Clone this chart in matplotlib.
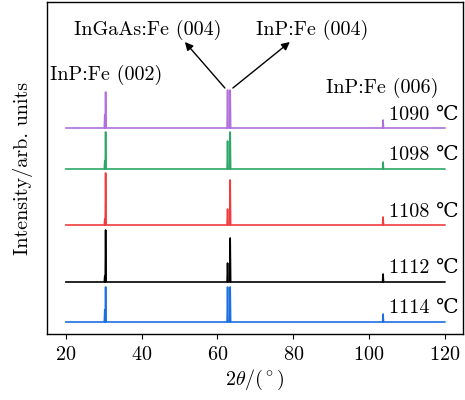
import matplotlib
matplotlib.use("Agg")
import matplotlib.pyplot as plt

plt.rcParams['font.family'] = ['cmr10', 'DejaVu Serif']
plt.rcParams['mathtext.fontset'] = 'cm'
plt.rcParams['axes.formatter.use_mathtext'] = True
FS = 14.5
plt.rcParams['font.size'] = FS

# Data (vertical units: arbitrary, stacked offsets)
temps = ["1090 ℃", "1098 ℃", "1108 ℃", "1112 ℃", "1114 ℃"]
colors = ["#b06fdc", "#2ea866", "#f03c3c", "#000000", "#1c6fe0"]
offsets = [206, 165, 109, 52, 12]
peak_pos = [30.25, 30.47, 62.66, 63.35, 103.7]
peak_heights = {
    "1090 ℃": [13, 36, 38, 38, 8],
    "1098 ℃": [8, 37, 28, 37, 7],
    "1108 ℃": [6, 52, 16, 45, 8],
    "1112 ℃": [6, 52, 19, 44, 8],
    "1114 ℃": [12, 35, 35, 35, 8],
}
x_start, x_end = 20, 120
label_y = [219, 179, 122, 66, 26]

def build(heights, off, hw=0.12):
    xs = [x_start]
    ys = [off]
    for p, h in zip(peak_pos, heights):
        xs += [p - hw, p, p + hw]
        ys += [off, off + h, off]
    xs.append(x_end)
    ys.append(off)
    pts = sorted(zip(xs, ys), key=lambda t: t[0])
    return [a for a, b in pts], [b for a, b in pts]

fig = plt.figure(figsize=(4.65, 4.0), dpi=100)
ax = fig.add_axes([47/465, (400-334)/400, (463-47)/465, 332/400])

for t, c, off, ly in zip(temps, colors, offsets, label_y):
    xs, ys = build(peak_heights[t], off)
    ax.plot(xs, ys, color=c, lw=1.2)
    ax.text(105.2, ly, t, ha='left', va='center', fontsize=FS)

ax.set_xlim(15, 124.8)
ax.set_ylim(0, 332)
ax.set_yticks([])
ax.set_xticks([20, 40, 60, 80, 100, 120])
ax.tick_params(axis='x', direction='out', length=3.5, width=0.8, labelsize=FS, pad=5)
for s in ax.spines.values():
    s.set_linewidth(1.0)

ax.set_xlabel(r"$2\theta/(^\circ)$", fontsize=FS, labelpad=3)
ax.set_ylabel("Intensity/arb. units", fontsize=FS, labelpad=10)

def px2d(px, py):
    return 20 + (px - 66) / 3.79, 334 - py

ax.text(*px2d(106, 75), "InP:Fe (002)", ha='center', va='center')
ax.text(*px2d(148, 30), "InGaAs:Fe (004)", ha='center', va='center')
ax.text(*px2d(312, 30), "InP:Fe (004)", ha='center', va='center')
ax.text(*px2d(382, 88), "InP:Fe (006)", ha='center', va='center')

ax.annotate("", xy=px2d(185, 42), xytext=px2d(225, 88),
            arrowprops=dict(arrowstyle='-|>', color='black', lw=1.0, mutation_scale=12, shrinkA=0, shrinkB=0))
ax.annotate("", xy=px2d(290, 42), xytext=px2d(233, 88),
            arrowprops=dict(arrowstyle='-|>', color='black', lw=1.0, mutation_scale=12, shrinkA=0, shrinkB=0))

fig.savefig("out.png", dpi=100)
